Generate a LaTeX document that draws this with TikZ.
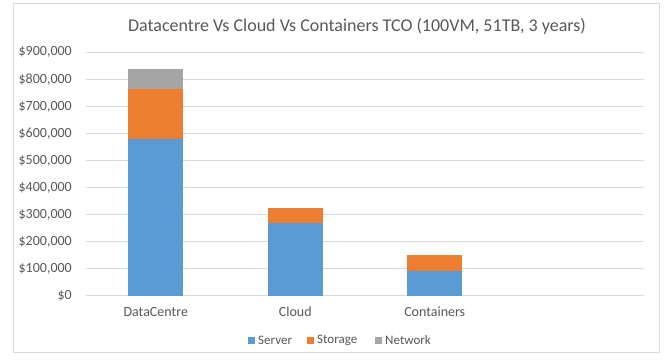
\documentclass[tikz,border=0pt]{standalone}
\usepackage{fontspec}
\setmainfont{Carlito}
\definecolor{srv}{HTML}{5B9BD5}
\definecolor{sto}{HTML}{ED7D31}
\definecolor{net}{HTML}{A5A5A5}
\definecolor{txt}{HTML}{595959}
\definecolor{grid}{HTML}{D9D9D9}
\begin{document}
\begin{tikzpicture}[x=1pt,y=-1pt,
  gridline/.style={draw=grid,line width=1pt},
  ticklabel/.style={text=txt,font=\fontsize{14}{16}\selectfont,anchor=east,inner sep=0pt},
  catlabel/.style={text=txt,font=\fontsize{14}{16}\selectfont,inner sep=0pt},
  legendtext/.style={text=txt,font=\fontsize{13}{15}\selectfont,anchor=west,inner sep=0pt}]
\useasboundingbox (0,0) rectangle (667,363);
\fill[white] (0,0) rectangle (667,363);
% chart frame
\draw[draw=grid,line width=0.8pt] (13,3) rectangle (659,352);
% title
\node[text=txt,font=\fontsize{18}{20}\selectfont,inner sep=0pt] (title) at (357,26) {Datacentre Vs Cloud Vs Containers TCO (100VM, 51TB, 3 years)};
% value axis: one unit = $100,000 = 27.08px, zero at y=296
\foreach \v/\t in {0/{\$0},1/{\$100,000},2/{\$200,000},3/{\$300,000},4/{\$400,000},5/{\$500,000},6/{\$600,000},7/{\$700,000},8/{\$800,000},9/{\$900,000}}{
  \draw[gridline] (86,{296-27.08*\v}) -- (644,{296-27.08*\v});
  \node[ticklabel] (tick\v) at (72,{296-27.08*\v}) {\t};
}
% stacked bars: centre, server, storage, network (in $100k)
\foreach \n/\c/\s/\o/\w in {dc/155.75/5.81/1.82/0.74, cl/295.25/2.70/0.55/0, ct/434.75/0.92/0.59/0}{
  \fill[srv] ({\c-27.5},296) rectangle ({\c+27.5},{296-27.08*\s});
  \fill[sto] ({\c-27.5},{296-27.08*\s}) rectangle ({\c+27.5},{296-27.08*(\s+\o)});
  \fill[net] ({\c-27.5},{296-27.08*(\s+\o)}) rectangle ({\c+27.5},{296-27.08*(\s+\o+\w)});
}
% category labels
\node[catlabel] (catdc) at (155.75,312) {DataCentre};
\node[catlabel] (catcl) at (295.25,312) {Cloud};
\node[catlabel] (catct) at (434.75,312) {Containers};
% legend
\fill[srv] (248,337) rectangle (255,344);
\node[legendtext] (lgsrv) at (258,340.5) {Server};
\fill[sto] (307,337) rectangle (314,344);
\node[legendtext] (lgsto) at (317,340.5) {Storage};
\fill[net] (375,337) rectangle (382,344);
\node[legendtext] (lgnet) at (385,340.5) {Network};
\end{tikzpicture}
\end{document}
